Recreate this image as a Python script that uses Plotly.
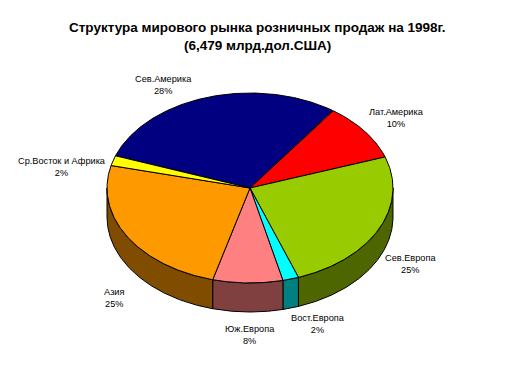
import numpy as np
import plotly.graph_objects as go

title_lines = ["Структура мирового рынка розничных продаж на 1998г.", "(6,479 млрд.дол.США)"]
title_y = [27, 45]
categories = ["Сев.Америка", "Лат.Америка", "Сев.Европа", "Вост.Европа", "Юж.Европа", "Азия", "Ср.Восток и Африка"]
percent_labels = ["28%", "10%", "25%", "2%", "8%", "25%", "2%"]
shares = [29.3, 9.9, 24.8, 1.8, 7.9, 24.6, 1.7]
top_colors = ["#000080", "#FF0000", "#99CC00", "#00FFFF", "#FF8080", "#FF9900", "#FFFF00"]
side_colors = ["#000040", "#800000", "#4D6600", "#008080", "#804040", "#804D00", "#808000"]
label_x = [163, 396, 410, 318, 250, 114, 62]
label_y = [85, 118, 264, 324, 335, 298, 167]

CX, CY, RX, RY, DEPTH = 250, 188, 143, 95, 29
START = -70.2  # degrees clockwise from the top
PAGE_MARGIN = 8  # the browser's default page margin offsets the figure

def pt(a):
    r = np.radians(a)
    return CX + RX * np.sin(r), CY - RY * np.cos(r)

fig = go.Figure()
edges = START + np.concatenate([[0], np.cumsum(shares)]) * 3.6
common = dict(mode="lines", fill="toself", hoverinfo="skip", showlegend=False,
              line=dict(color="#000000", width=1))

# front wall (only the part between 90 and 270 degrees faces the viewer)
for i, name in enumerate(categories):
    a0, a1 = max(edges[i], 90), min(edges[i + 1], 270)
    if a1 <= a0:
        continue
    t = np.linspace(a0, a1, 120)
    x, y = pt(t)
    fig.add_trace(go.Scatter(x=np.r_[x, x[::-1], x[0]], y=np.r_[y, y[::-1] + DEPTH, y[0]],
                             fillcolor=side_colors[i], name=name, **common))

# top face
for i, name in enumerate(categories):
    t = np.linspace(edges[i], edges[i + 1], 200)
    x, y = pt(t)
    fig.add_trace(go.Scatter(x=np.r_[CX, x, CX], y=np.r_[CY, y, CY],
                             fillcolor=top_colors[i], name=name, **common))

annotations = [dict(x=257.5, y=ty, xref="x", yref="y", showarrow=False, align="center",
                    text=f"<b>{line}</b>",
                    font=dict(family="Liberation Sans", size=13.5, color="#000000"))
               for line, ty in zip(title_lines, title_y)]
for name, pct, lx, ly in zip(categories, percent_labels, label_x, label_y):
    annotations.append(dict(x=lx, y=ly, xref="x", yref="y", showarrow=False, align="center",
                            text=f"{name}<br>{pct}",
                            font=dict(family="Liberation Sans", size=9.2, color="#000000")))

fig.update_layout(
    width=515 - PAGE_MARGIN, height=371 - PAGE_MARGIN, margin=dict(l=0, r=0, t=0, b=0),
    paper_bgcolor="#FFFFFF", plot_bgcolor="#FFFFFF",
    xaxis=dict(range=[PAGE_MARGIN, 515], visible=False, fixedrange=True),
    yaxis=dict(range=[371, PAGE_MARGIN], visible=False, fixedrange=True),
    annotations=annotations,
)
fig.write_html("out.html", config=dict(displayModeBar=False))
